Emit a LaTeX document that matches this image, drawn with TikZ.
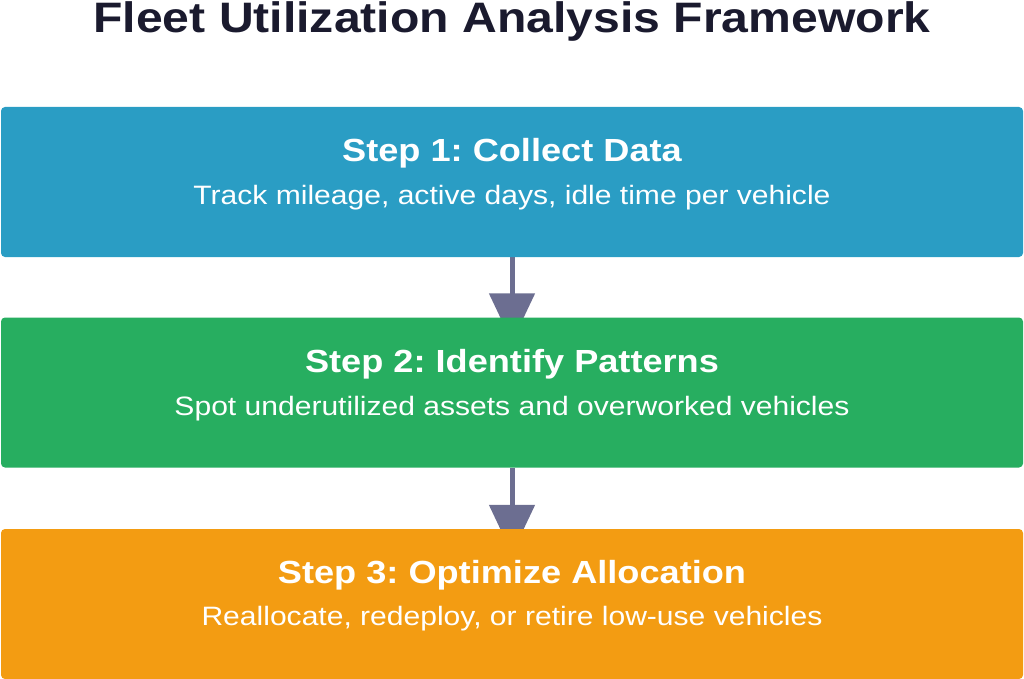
\documentclass[tikz,border=0pt]{standalone}
\usepackage{fontspec}
\setmainfont[FakeStretch=1.13]{Liberation Sans}
\usetikzlibrary{arrows.meta,calc,backgrounds}

\definecolor{titlecol}{RGB}{26,26,46}
\definecolor{stepblue}{RGB}{42,157,196}
\definecolor{stepgreen}{RGB}{39,174,96}
\definecolor{steporange}{RGB}{243,156,18}
\definecolor{arrowcol}{RGB}{108,110,145}

\begin{document}
\frenchspacing
\begin{tikzpicture}[x=1pt,y=-1pt,
    stepbox/.style={draw=none,rounded corners=4pt,minimum width=1022pt,minimum height=150pt,inner sep=0pt},
    steptitle/.style={anchor=base,inner sep=0pt,text=white,font=\fontsize{32}{38}\selectfont\bfseries},
    stepsub/.style={anchor=base,inner sep=0pt,text=white,font=\fontsize{26.6}{30}\selectfont},
    flow/.style={draw=arrowcol,line width=5pt,-{Triangle[length=49pt,width=45pt]}}]
    \useasboundingbox (0,0) rectangle (1024,679);
    \node[anchor=base,inner sep=0pt,text=titlecol,font=\fontsize{42.6}{48}\selectfont\bfseries] (title) at (512,33) {Fleet Utilization Analysis Framework};
    % the three steps
    \node[stepbox,fill=stepblue] (step1) at (512,182) {};
    \node[stepbox,fill=stepgreen] (step2) at (512,392.5) {};
    \node[stepbox,fill=steporange] (step3) at (512,604) {};
    \node[steptitle] (t1) at (512,161) {Step 1: Collect Data};
    \node[stepsub] (s1) at (512,204) {Track mileage, active days, idle time per vehicle};
    \node[steptitle] (t2) at (512,372) {Step 2: Identify Patterns};
    \node[stepsub] (s2) at (512,415) {Spot underutilized assets and overworked vehicles};
    \node[steptitle] (t3) at (512,583) {Step 3: Optimize Allocation};
    \node[stepsub] (s3) at (512,625) {Reallocate, redeploy, or retire low-use vehicles};
    % arrows go under the boxes
    \coordinate (tip1) at ($(step2.north)+(0,25)$);
    \coordinate (tip2) at ($(step3.north)+(0,25)$);
    \begin{scope}[on background layer]
    \draw[flow] (step1.south) -- (tip1);
    \draw[flow] (step2.south) -- (tip2);
    \end{scope}
\end{tikzpicture}
\end{document}
